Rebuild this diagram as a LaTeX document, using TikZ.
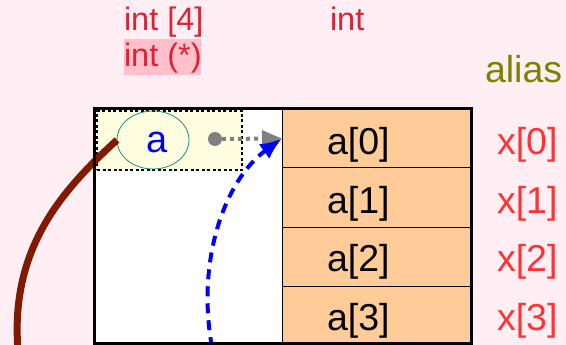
\documentclass[tikz,border=0pt]{standalone}
\usepackage{fontspec}
\setmainfont{Liberation Sans}
\usetikzlibrary{arrows.meta,shapes.geometric}
\definecolor{bg}{HTML}{FFEEF3}
\definecolor{cellor}{HTML}{FFCC99}
\definecolor{ybox}{HTML}{FFFDE0}
\definecolor{typered}{HTML}{DD2233}
\definecolor{xred}{HTML}{FF3333}
\definecolor{hl}{HTML}{FFBFCB}
\definecolor{olivec}{HTML}{808000}
\definecolor{brownc}{HTML}{801A00}
\definecolor{tealc}{HTML}{1A8C80}
\tikzset{
  cell/.style={draw=black, fill=cellor, line width=1pt, minimum width=189pt, minimum height=59pt, anchor=north west},
  big/.style={font=\fontsize{37.5}{42}\selectfont, anchor=base west},
  typelbl/.style={font=\fontsize{32.5}{36}\selectfont, text=typered, anchor=base west},
  xlbl/.style={big, text=xred},
}
\begin{document}
\begin{tikzpicture}[x=1pt,y=-1pt, every node/.style={inner sep=0pt, outer sep=0pt}]
\fill[bg] (0,0) rectangle (566,345);
\useasboundingbox (0,0) rectangle (566,345);
% outer box interior
\node[fill=white, minimum width=377pt, minimum height=234pt, anchor=north west] (outer) at (94,109) {};
% cells
\node[cell] (c0) at (282,109) {};
\node[cell] (c1) at (282,168) {};
\node[cell] (c2) at (282,227) {};
\node[cell] (c3) at (282,286) {};
\node[big] (t0) at (327,154) {a[0]};
\node[big] (t1) at (327,213) {a[1]};
\node[big] (t2) at (327,272) {a[2]};
\node[big] (t3) at (327,330) {a[3]};
% yellow dashed box
\node[draw=black, fill=ybox, dash pattern=on 3pt off 2.5pt, line width=1.3pt, minimum width=145pt, minimum height=59pt, anchor=north west] (yb) at (97,111) {};
% ellipse a
\node[ellipse, draw=tealc, line width=0.8pt, minimum width=72pt, minimum height=58pt] (ea) at (153,140) {};
\node[text=blue, font=\fontsize{38}{42}\selectfont] (ta) at ([xshift=4pt,yshift=-2.5pt]ea.center) {a};
% gray dot and dotted arrow
\node[circle, fill=gray, minimum size=14pt] (dot) at (215,139) {};
\draw[gray, line width=4pt, dash pattern=on 4pt off 4pt, -{Triangle[length=20pt,width=16pt]}] (dot) -- (c0.west);
% blue dashed arrow
\coordinate (bstart) at (212,347);
\draw[blue, line width=4pt, dash pattern=on 10pt off 7pt, -{Latex[length=22pt,width=18pt]}] (bstart) .. controls (196,260) and (225,180) .. (c0.west);
% brown curve
\coordinate (bend) at (18,350);
\draw[brownc, line width=7pt] (ea.west) .. controls (60,192) and (10,250) .. (bend);
% outer border
\draw[line width=3pt] (outer.north west) rectangle (outer.south east);
% labels
\node[typelbl] (int4) at (124,31) {int [4]};
\node[fill=hl, minimum width=77pt, minimum height=36pt, anchor=north west] (hlb) at (124,39) {};
\node[typelbl] (intp) at (124,67) {int (*)};
\node[typelbl] (int) at (330,31) {int};
\node[big, text=olivec] (alias) at (485,83) {alias};
\node[xlbl] (x0) at (497,154) {x[0]};
\node[xlbl] (x1) at (497,213) {x[1]};
\node[xlbl] (x2) at (497,272) {x[2]};
\node[xlbl] (x3) at (497,330) {x[3]};
\end{tikzpicture}
\end{document}
